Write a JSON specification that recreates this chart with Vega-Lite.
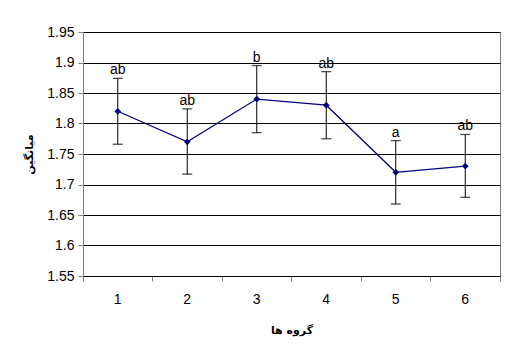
{
  "$schema": "https://vega.github.io/schema/vega-lite/v6.json",
  "width": 417,
  "height": 244,
  "autosize": "none",
  "padding": {"left": 83, "top": 32, "right": 5, "bottom": 84},
  "background": "white",
  "config": {
    "font": "Liberation Sans, Arial, DejaVu Sans",
    "view": {"stroke": "#808080", "strokeWidth": 1},
    "axis": {"labelFont": "Liberation Sans, Arial", "labelFontSize": 14, "labelColor": "black", "titleColor": "black", "labelOverlap": false}
  },
  "data": {
    "values": [
      {"group": "1", "mean": 1.82, "lo": 1.766, "hi": 1.874, "label": "ab"},
      {"group": "2", "mean": 1.77, "lo": 1.717, "hi": 1.824, "label": "ab"},
      {"group": "3", "mean": 1.84, "lo": 1.785, "hi": 1.895, "label": "b"},
      {"group": "4", "mean": 1.83, "lo": 1.775, "hi": 1.885, "label": "ab"},
      {"group": "5", "mean": 1.72, "lo": 1.668, "hi": 1.772, "label": "a"},
      {"group": "6", "mean": 1.73, "lo": 1.679, "hi": 1.782, "label": "ab"}
    ]
  },
  "encoding": {
    "x": {
      "field": "group", "type": "ordinal",
      "scale": {"paddingInner": 0, "paddingOuter": 0},
      "axis": {
        "title": "گروه ها", "titleFont": "DejaVu Sans", "titleFontSize": 11, "titleFontWeight": "bold", "titlePadding": 18,
        "labelAngle": 0, "labelPadding": 11, "bandPosition": 1, "tickExtra": true,
        "tickColor": "#808080", "tickSize": 5, "domainColor": "black", "grid": false
      }
    }
  },
  "layer": [
    {
      "mark": {"type": "rule", "color": "black", "strokeWidth": 1},
      "encoding": {
        "y": {
          "field": "lo", "type": "quantitative",
          "scale": {"domain": [1.55, 1.95], "nice": false, "zero": false},
          "axis": {
            "title": "میانگین", "titleFont": "DejaVu Sans", "titleFontSize": 11, "titleFontWeight": "bold", "titlePadding": 12,
            "values": [1.55, 1.6, 1.65, 1.7, 1.75, 1.8, 1.85, 1.9, 1.95], "tickCount": 20,
            "format": ".2~f", "labelPadding": 4, "labelFontSize": 14, "labelOverlap": false,
            "tickSize": 5, "tickColor": "#808080",
            "domainColor": "#808080", "grid": true, "gridColor": "black", "gridWidth": 1
          }
        },
        "y2": {"field": "hi"}
      }
    },
    {
      "mark": {"type": "tick", "color": "black", "size": 10, "thickness": 1.3},
      "encoding": {"y": {"field": "lo", "type": "quantitative"}}
    },
    {
      "mark": {"type": "tick", "color": "black", "size": 10, "thickness": 1.3},
      "encoding": {"y": {"field": "hi", "type": "quantitative"}}
    },
    {
      "mark": {"type": "line", "color": "#000080", "strokeWidth": 1.2},
      "encoding": {"y": {"field": "mean", "type": "quantitative"}}
    },
    {
      "mark": {"type": "point", "shape": "diamond", "filled": true, "color": "#000080", "size": 45, "opacity": 1},
      "encoding": {"y": {"field": "mean", "type": "quantitative"}}
    },
    {
      "mark": {"type": "text", "baseline": "bottom", "dy": -1, "fontSize": 14, "font": "Liberation Sans, Arial", "color": "black"},
      "encoding": {"y": {"field": "hi", "type": "quantitative"}, "text": {"field": "label"}}
    }
  ]
}
